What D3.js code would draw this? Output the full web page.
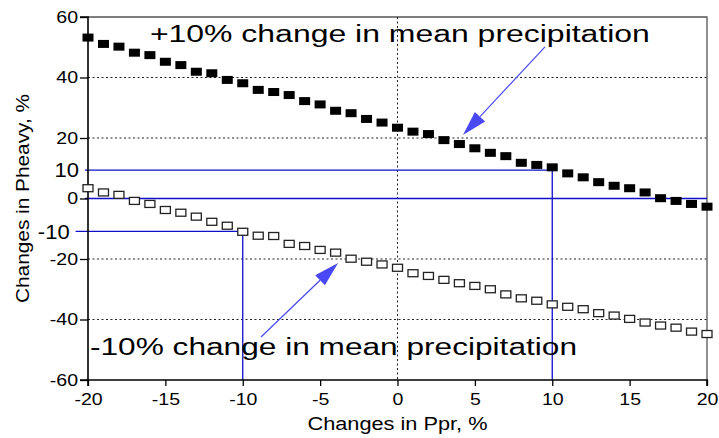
<!DOCTYPE html>
<html>
<head>
<meta charset="utf-8">
<script src="https://cdn.jsdelivr.net/npm/d3@7"></script>
<style>
	body { margin: 0; background: #fff; }
	svg { display: block; font-family: "Liberation Sans", Arial, Helvetica, sans-serif; }
</style>
</head>
<body>
<svg id="chart"></svg>
<script>
// changes in Ppr, % (x)
const ppr = [-20, -19, -18, -17, -16, -15, -14, -13, -12, -11, -10, -9, -8, -7, -6, -5, -4, -3, -2, -1,
	0, 1, 2, 3, 4, 5, 6, 7, 8, 9, 10, 11, 12, 13, 14, 15, 16, 17, 18, 19, 20] ;
// changes in Pheavy, % for +10% mean precipitation (filled squares)
const plus10 = [53.2, 51.1, 50.2, 48.2, 47.4, 45.2, 44.1, 41.9, 41.4, 39.2, 38.1, 35.9, 35.2, 34.2, 32.2, 31.1,
	29.0, 28.2, 26.3, 25.1, 23.4, 22.1, 21.3, 19.3, 18.0, 16.6, 15.1, 14.0, 11.8, 11.1, 10.3, 8.3, 7.0, 5.4,
	4.2, 3.4, 2.0, 0.1, -0.8, -1.8, -2.7] ;
// changes in Pheavy, % for -10% mean precipitation (open squares)
const minus10 = [3.4, 2.0, 1.2, -0.8, -1.8, -3.8, -4.7, -6.0, -7.7, -9.0, -11.0, -12.3, -12.4, -15.0, -15.7, -17.0,
	-17.9, -19.9, -20.9, -21.8, -22.9, -24.7, -25.6, -26.9, -28.0, -28.9, -30.0, -31.7, -33.0, -33.8, -35.0,
	-35.8, -36.6, -37.9, -38.7, -39.8, -41.0, -42.0, -42.7, -44.0, -44.8] ;

const xTicks = [-20, -15, -10, -5, 0, 5, 10, 15, 20] ;
const yTicks = [-60, -40, -20, 0, 20, 40, 60] ;
const yGrid = [-40, -20, 20, 40] ;
const xGrid = [0] ;

// blue reference lines: [x where the line meets the series, y value, left end x, label]
const refLines = [
	{ x: 10, y: 9.4, from: -20.2, label: '10' },
	{ x: -10, y: -10.9, from: -20.8, label: '-10' }
] ;
const zeroLine = [0] ;

// annotation texts and arrows (data coordinates)
const notes = [
	{ text: '+10% change in mean precipitation', x: -16.0, y: 51.8, width: 500, tail: [9.53, 50.1], tip: [4.23, 21.0] },
	{ text: '-10% change in mean precipitation', x: -19.87, y: -51.7, width: 487, tail: [-8.82, -45.8], tip: [-3.84, -21.3] }
] ;

const geom = {
	width: 719,
	height: 438,
	margins: { left: 88, right: 12, top: 17, bottom: 58 }
} ;

const svg = d3.select('#chart')
	.attr('width', geom.width)
	.attr('height', geom.height) ;

const x = d3.scaleLinear()
	.domain([-20, 20])
	.range([geom.margins.left, geom.width - geom.margins.right]) ;
const y = d3.scaleLinear()
	.domain([-60, 60])
	.range([geom.height - geom.margins.bottom, geom.margins.top]) ;

const blue = '#1010c8' ;
const arrowBlue = '#4848f4' ;

// frame (top & right)
svg.append('path')
	.attr('d', `M${x(-20)},${y(60)}H${x(20)}V${y(-60)}`)
	.attr('fill', 'none')
	.attr('stroke', '#555')
	.attr('stroke-width', 1.3) ;

// dotted grid
svg.selectAll('line.hgrid')
	.data(yGrid)
	.enter()
	.append('line')
	.attr('class', 'hgrid')
	.attr('x1', x(-20)).attr('x2', x(20))
	.attr('y1', d => y(d)).attr('y2', d => y(d))
	.attr('stroke', '#222')
	.attr('stroke-width', 1)
	.attr('stroke-dasharray', '2,2.5') ;

svg.selectAll('line.vgrid')
	.data(xGrid)
	.enter()
	.append('line')
	.attr('class', 'vgrid')
	.attr('x1', d => x(d)).attr('x2', d => x(d))
	.attr('y1', y(60)).attr('y2', y(-60))
	.attr('stroke', '#222')
	.attr('stroke-width', 1)
	.attr('stroke-dasharray', '2,2.5') ;

// blue reference lines
svg.selectAll('line.zero')
	.data(zeroLine)
	.enter()
	.append('line')
	.attr('class', 'zero')
	.attr('x1', x(-20.2)).attr('x2', x(20))
	.attr('y1', d => y(d)).attr('y2', d => y(d))
	.attr('stroke', blue)
	.attr('stroke-width', 1.3) ;

const refs = svg.selectAll('g.ref')
	.data(refLines)
	.enter()
	.append('g')
	.attr('class', 'ref') ;

refs.append('path')
	.attr('d', d => `M${x(d.from)},${y(d.y)}H${x(d.x)}V${y(-60)}`)
	.attr('fill', 'none')
	.attr('stroke', blue)
	.attr('stroke-width', 1.3) ;

refs.append('text')
	.attr('transform', d => `translate(${x(d.from) - 6},${y(d.y)}) scale(1.1,1)`)
	.attr('text-anchor', 'end')
	.attr('dy', '0.36em')
	.attr('font-size', 20)
	.attr('fill', '#000')
	.text(d => d.label) ;

// axes (hyphen minus, as in the original)
const fmt = d => String(d) ;
const xAxis = svg.append('g')
	.attr('transform', `translate(0,${y(-60)})`)
	.call(d3.axisBottom(x).tickValues(xTicks).tickSize(6).tickPadding(7).tickFormat(fmt)) ;
const yAxis = svg.append('g')
	.attr('transform', `translate(${x(-20)},0)`)
	.call(d3.axisLeft(y).tickValues(yTicks).tickSize(8).tickPadding(2).tickFormat(fmt)) ;

[xAxis, yAxis].forEach(ax => {
	ax.select('.domain').attr('stroke', '#000').attr('stroke-width', 1.6) ;
	ax.selectAll('.tick line').attr('stroke', '#000').attr('stroke-width', 1.3) ;
	ax.selectAll('.tick text')
		.attr('font-size', 17)
		.attr('font-family', '"Liberation Sans", Arial, sans-serif')
		.attr('fill', '#000') ;
}) ;
xAxis.select('.domain').attr('d', `M${x(-20)},6V0H${x(20)}V6`) ;
yAxis.select('.domain').attr('d', `M-8,${y(60)}H0V${y(-60)}H-8`) ;
xAxis.selectAll('.tick text')
	.attr('transform', 'scale(1.15,1)') ;
yAxis.selectAll('.tick text')
	.attr('x', 0)
	.attr('transform', 'translate(-10,0) scale(1.15,1)') ;

// series
const pts = ppr.map((p, i) => ({ p: p, hi: plus10[i], lo: minus10[i] })) ;

svg.selectAll('rect.lo')
	.data(pts)
	.enter()
	.append('rect')
	.attr('class', 'lo')
	.attr('x', d => x(d.p) - 5)
	.attr('y', d => y(d.lo) - 3.5)
	.attr('width', 10)
	.attr('height', 7)
	.attr('fill', '#fff')
	.attr('stroke', '#222')
	.attr('stroke-width', 1.3) ;

svg.selectAll('rect.hi')
	.data(pts)
	.enter()
	.append('rect')
	.attr('class', 'hi')
	.attr('x', d => x(d.p) - 5.5)
	.attr('y', d => y(d.hi) - 4)
	.attr('width', 11)
	.attr('height', 8)
	.attr('fill', '#000') ;

// annotations
const ann = svg.selectAll('g.note')
	.data(notes)
	.enter()
	.append('g')
	.attr('class', 'note') ;

ann.append('text')
	.attr('x', d => x(d.x))
	.attr('y', d => y(d.y))
	.attr('font-size', 23)
	.attr('textLength', d => d.width)
	.attr('lengthAdjust', 'spacingAndGlyphs')
	.attr('fill', '#000')
	.text(d => d.text) ;

function arrowPath( d ) {
	let [x0, y0] = [x(d.tail[0]), y(d.tail[1])] ;
	let [x1, y1] = [x(d.tip[0]), y(d.tip[1])] ;
	let len = Math.hypot(x1 - x0, y1 - y0) ;
	let ux = (x1 - x0) / len, uy = (y1 - y0) / len ;
	let hl = 25, hw = 7 ;
	let bx = x1 - ux * hl, by = y1 - uy * hl ;
	return {
		line: `M${x0},${y0}L${bx},${by}`,
		head: `M${x1},${y1}L${bx - uy * hw},${by + ux * hw}L${bx + uy * hw},${by - ux * hw}Z`
	} ;
}

ann.append('path')
	.attr('d', d => arrowPath(d).line)
	.attr('stroke', arrowBlue)
	.attr('stroke-width', 1.2)
	.attr('fill', 'none') ;
ann.append('path')
	.attr('d', d => arrowPath(d).head)
	.attr('fill', arrowBlue)
	.attr('stroke', 'none') ;

// axis titles
svg.append('text')
	.attr('x', (x(-20) + x(20)) / 2)
	.attr('y', 430)
	.attr('text-anchor', 'middle')
	.attr('font-size', 18)
	.attr('textLength', 180)
	.attr('lengthAdjust', 'spacingAndGlyphs')
	.text('Changes in Ppr, %') ;

svg.append('text')
	.attr('transform', `translate(29,${(y(60) + y(-60)) / 2}) rotate(-90)`)
	.attr('text-anchor', 'middle')
	.attr('font-size', 19)
	.attr('textLength', 209)
	.attr('lengthAdjust', 'spacingAndGlyphs')
	.text('Changes in Pheavy, %') ;
</script>
</body>
</html>
